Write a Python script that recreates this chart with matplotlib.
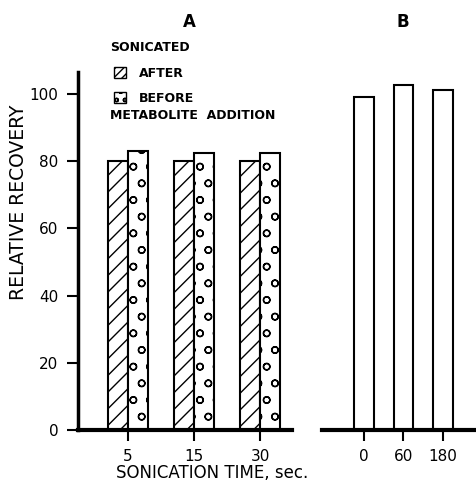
import numpy as np
import matplotlib
matplotlib.use('Agg')
import matplotlib.pyplot as plt
from matplotlib.patches import Patch

# Painel A: tempo de sonicacao
tempos_A = ['5', '15', '30']
depois = [80, 80, 80]      # sonicado depois da adicao
antes = [83, 82.5, 82.5]   # sonicado antes da adicao

# Painel B
tempos_B = ['0', '60', '180']
recup_B = [99, 102.5, 101]

plt.rcParams['font.family'] = ['DejaVu Sans']
plt.rcParams['hatch.linewidth'] = 1.0

fig = plt.figure(figsize=(4.77, 4.82), dpi=100)
axA = fig.add_axes([0.1635, 0.1079, 0.4486, 0.7427])
axB = fig.add_axes([0.675, 0.1079, 0.325, 0.7427])

xa = np.arange(1, len(tempos_A) + 1)
w = 0.3
axA.bar(xa - w/2, depois, w, facecolor='white', edgecolor='black', hatch='//', linewidth=1.5)
axA.bar(xa + w/2, antes, w, facecolor='white', edgecolor='black', hatch='o', linewidth=1.5)
axA.set_xlim(0.24, 3.48)
axA.set_ylim(0, 106.5)
axA.set_xticks(xa)
axA.set_xticklabels(tempos_A)
axA.set_yticks([0, 20, 40, 60, 80, 100])

xb = np.arange(1, len(tempos_B) + 1)
axB.bar(xb, recup_B, 0.5, facecolor='white', edgecolor='black', linewidth=1.5)
axB.set_xlim(-0.06, 3.86)
axB.set_ylim(0, 106.5)
axB.set_xticks(xb)
axB.set_xticklabels(tempos_B)
axB.set_yticks([])

for ax in (axA, axB):
    ax.spines['top'].set_visible(False)
    ax.spines['right'].set_visible(False)
    ax.spines['bottom'].set_linewidth(3)
    ax.tick_params(axis='both', direction='out', length=8, width=1.5, labelsize=11, pad=6)
axA.spines['left'].set_linewidth(2.5)
axB.spines['left'].set_visible(False)

axA.set_ylabel('RELATIVE RECOVERY', fontsize=13.5)
axA.yaxis.set_label_coords(-0.235, 0.637)
fig.text(0.444, 0.018, 'SONICATION TIME, sec.', fontsize=12, ha='center', va='center')

fig.text(0.398, 0.955, 'A', fontsize=12, fontweight='bold', ha='center', va='center')
fig.text(0.845, 0.955, 'B', fontsize=12, fontweight='bold', ha='center', va='center')

# Legenda
fig.text(0.231, 0.902, 'SONICATED', fontsize=9, fontweight='bold', va='center')
fig.text(0.231, 0.761, 'METABOLITE  ADDITION', fontsize=9, fontweight='bold', va='center')
handles = [Patch(facecolor='white', edgecolor='black', hatch='////', label='AFTER'),
           Patch(facecolor='white', edgecolor='black', hatch='oo', label='BEFORE')]
leg = fig.legend(handles=handles, loc='upper left', bbox_to_anchor=(0.215, 0.885),
                 frameon=False, handlelength=1.0, handleheight=1.0, labelspacing=1.0,
                 handletextpad=1.0, prop={'size': 9, 'weight': 'bold'})

fig.savefig('out.png', dpi=100)
